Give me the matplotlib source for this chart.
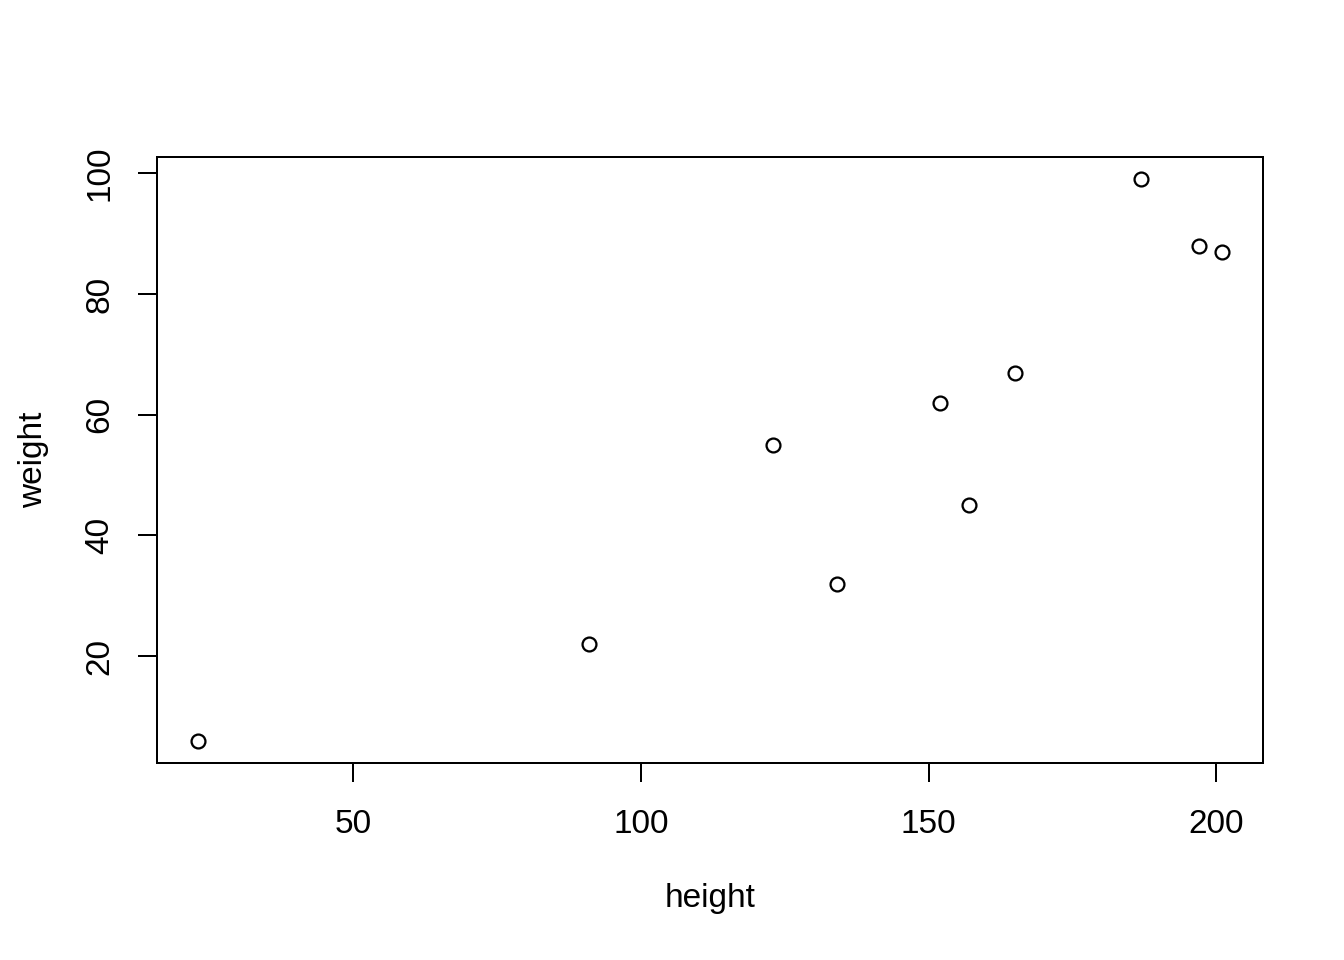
import matplotlib
matplotlib.use("Agg")
import matplotlib.pyplot as plt

height = [23, 91, 123, 134, 152, 157, 165, 187, 197, 201]
weight = [6, 22, 55, 32, 62, 45, 67, 99, 88, 87]

plt.rcParams['font.family'] = ['Liberation Sans', 'DejaVu Sans']
plt.rcParams['font.size'] = 12

fig = plt.figure(figsize=(7, 5), dpi=192)
ax = fig.add_axes([157 / 1344, 1 - 763 / 960, (1263 - 157) / 1344, (763 - 157) / 960])

ax.plot(height, weight, linestyle='none', marker='o', markersize=5.2,
        markerfacecolor='none', markeredgecolor='black', markeredgewidth=0.85)

# R style: 4% padding
xr = max(height) - min(height)
yr = max(weight) - min(weight)
ax.set_xlim(min(height) - 0.04 * xr, max(height) + 0.04 * xr)
ax.set_ylim(min(weight) - 0.04 * yr, max(weight) + 0.04 * yr)

ax.set_xticks([50, 100, 150, 200])
ax.set_yticks([20, 40, 60, 80, 100])
ax.tick_params(direction='out', length=7.2, width=0.75, labelsize=12.5)
ax.tick_params(axis='x', pad=10)
ax.tick_params(axis='y', pad=8.5)
for lab in ax.get_yticklabels():
    lab.set_rotation(90)
    lab.set_va('center')
for s in ax.spines.values():
    s.set_linewidth(0.75)

ax.set_xlabel('height', fontsize=12.5, labelpad=16)
ax.set_ylabel('weight', fontsize=12.5, labelpad=13)

fig.savefig('out.png', dpi=192)
